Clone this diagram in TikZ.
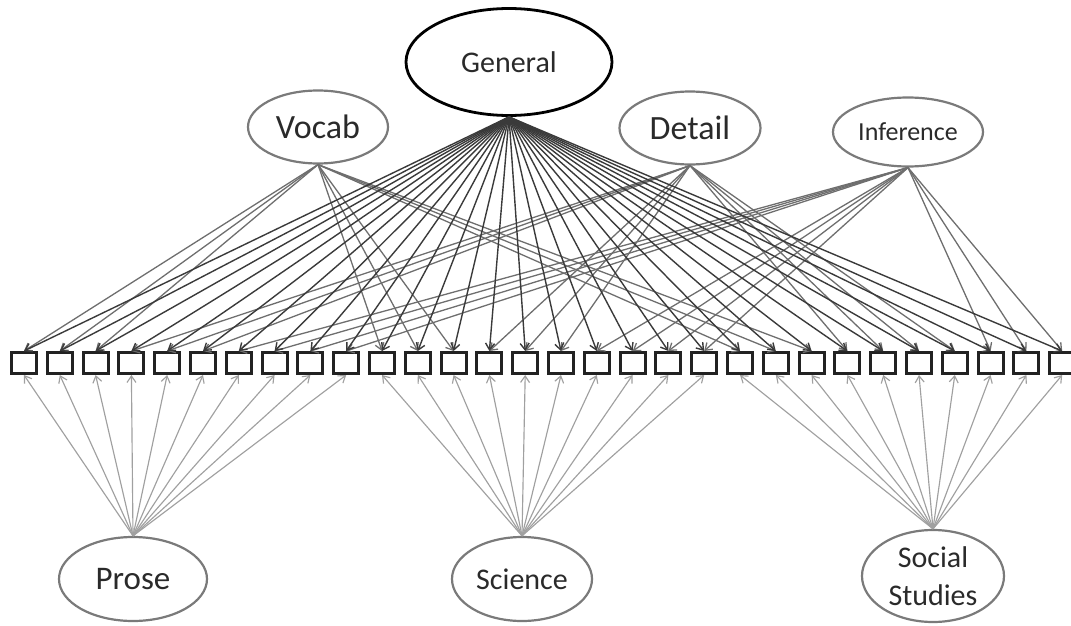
\documentclass[tikz,border=0pt]{standalone}
\usepackage{fontspec}
\setmainfont{Carlito}
\usetikzlibrary{shapes.geometric,arrows.meta}
\definecolor{genline}{HTML}{3A3A3A}
\definecolor{specline}{HTML}{6E6E6E}
\definecolor{passline}{HTML}{A0A0A0}
\definecolor{ovalgray}{HTML}{7A7A7A}
\definecolor{boxline}{HTML}{222222}
\definecolor{txt}{HTML}{2A2A2A}
\begin{document}
\begin{tikzpicture}[x=1pt,y=-1pt,
  >={Straight Barb[length=6.5pt,width=9pt]},
  latent/.style={ellipse,draw=ovalgray,line width=2.2pt,inner sep=0pt,text=txt},
  genlatent/.style={ellipse,draw=black,line width=2.8pt,inner sep=0pt,text=txt},
  itembox/.style={rectangle,draw=boxline,line width=3pt,fill=white,minimum width=25pt,minimum height=21pt,inner sep=0pt},
  genarrow/.style={->,draw=genline,line width=1.4pt},
  specarrow/.style={->,draw=specline,line width=1.3pt},
  passarrow/.style={->,draw=passline,line width=1.15pt}]
\useasboundingbox (0,0) rectangle (1071,626);
% latent factors
\node[genlatent,minimum width=206pt,minimum height=107pt,font=\fontsize{30}{36}\selectfont] (G) at (509,62) {General};
\node[latent,minimum width=140pt,minimum height=73pt,font=\fontsize{34}{40}\selectfont] (V) at (318,127) {Vocab};
\node[latent,minimum width=141pt,minimum height=73pt,font=\fontsize{34}{40}\selectfont] (D) at (690,128) {Detail};
\node[latent,minimum width=150pt,minimum height=69pt,font=\fontsize{26}{31}\selectfont] (I) at (908,132) {Inference};
\node[latent,minimum width=148pt,minimum height=84pt,font=\fontsize{33}{40}\selectfont] (P) at (133,579) {Prose};
\node[latent,minimum width=140pt,minimum height=84pt,font=\fontsize{30}{36}\selectfont] (S) at (522,579) {Science};
\node[latent,minimum width=142pt,minimum height=92pt,align=center,font=\fontsize{30}{38}\selectfont] (SS) at (933,576) {Social\\Studies};
% items
\foreach \i in {1,...,30}
  \node[itembox] (b\i) at ({24+35.8*(\i-1)},363) {};
% passage loadings
\foreach \i in {1,...,10} \draw[passarrow] (P.north) -- (b\i.south);
\foreach \i in {11,...,20} \draw[passarrow] (S.north) -- (b\i.south);
\foreach \i in {21,...,30} \draw[passarrow] (SS.north) -- (b\i.south);
% skill loadings
\foreach \i in {1,2,3,11,12,13,21,22,23} \draw[specarrow] (V.south) -- (b\i.north);
\foreach \i in {4,5,6,14,15,16,24,25,26,27} \draw[specarrow] (D.south) -- (b\i.north);
\foreach \i in {7,8,9,10,17,18,19,20,28,29,30} \draw[specarrow] (I.south) -- (b\i.north);
% general loadings
\foreach \i in {1,...,30} \draw[genarrow] (G.south) -- (b\i.north);
\end{tikzpicture}
\end{document}
